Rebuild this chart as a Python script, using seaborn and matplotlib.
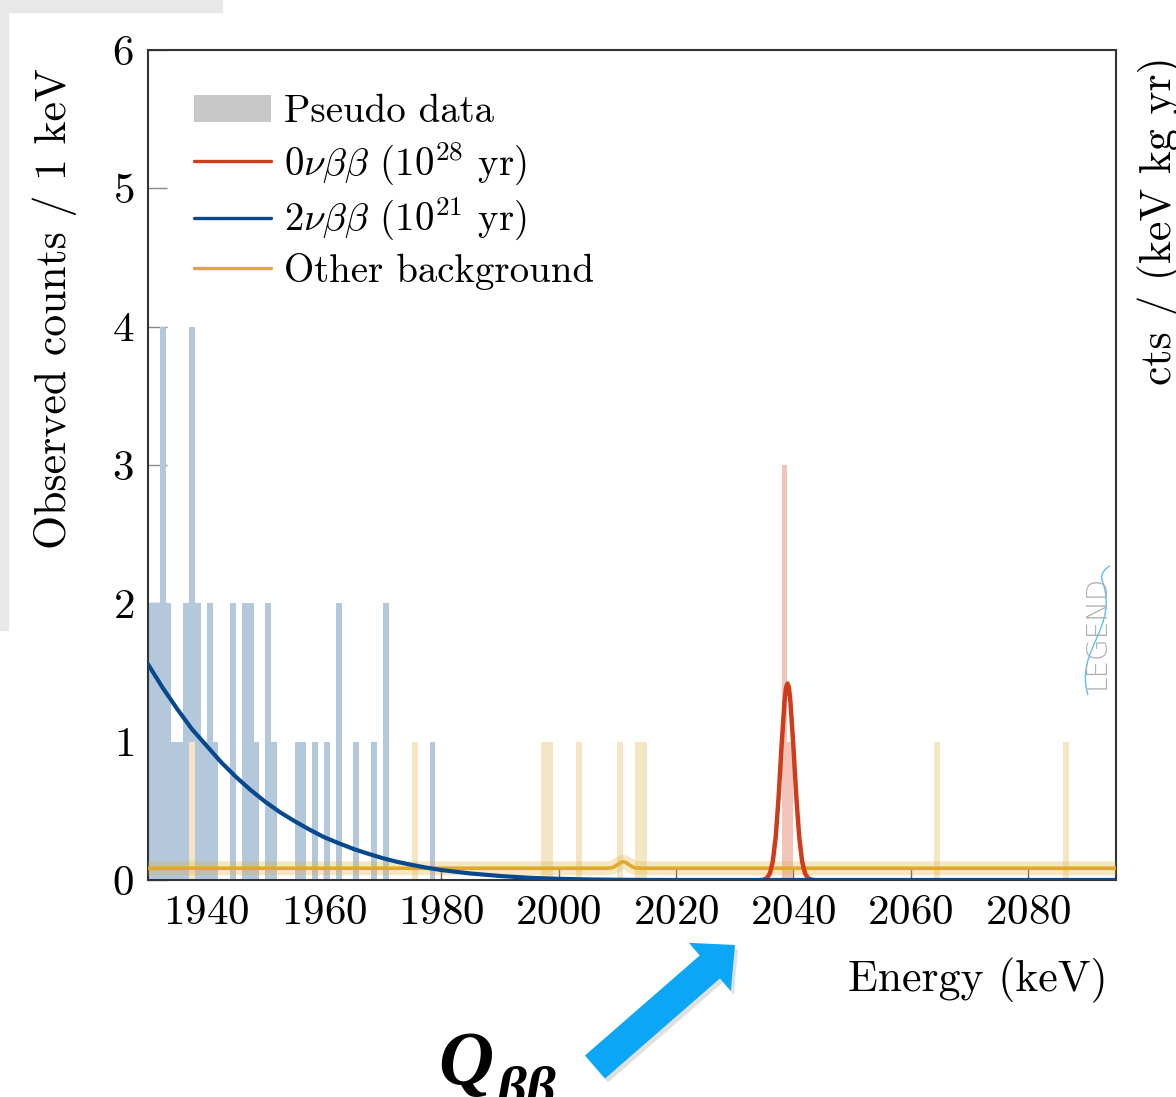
"""
    Pseudo data spectrum around Q_bb with the 0vbb, 2vbb and background models
"""
import matplotlib
matplotlib.use("Agg")
import matplotlib.pyplot as plt
from matplotlib.patches import Patch, Rectangle, FancyArrowPatch, PathPatch
from matplotlib.lines import Line2D
from matplotlib.path import Path
import seaborn as sns
import pandas as pd
import numpy as np

# Pseudo data: left edge of each 1 keV bin and its counts, split by origin
bins_2nu = [1930, 1931, 1932, 1933, 1934, 1935, 1936, 1937, 1938, 1939, 1940, 1941, 1944,
            1946, 1947, 1948, 1950, 1951, 1955, 1956, 1958, 1960, 1962, 1965, 1968, 1970, 1978]
counts_2nu = [2, 2, 4, 2, 1, 1, 2, 4, 2, 1, 2, 1, 2,
              2, 2, 1, 2, 1, 1, 1, 1, 1, 2, 1, 1, 2, 1]
bins_bkg = [1937, 1975, 1997, 1998, 2003, 2010, 2013, 2014, 2064, 2086]
counts_bkg = [1, 1, 1, 1, 1, 1, 1, 1, 1, 1]
bins_0nu = [2038, 2039]
counts_0nu = [3, 1]

# Model curves
energy_2nu = [1930, 1932.5, 1935, 1937.5, 1940, 1942.5, 1945, 1947.5, 1950, 1952.5, 1955,
              1957.5, 1960, 1962.5, 1965, 1967.5, 1970, 1972.5, 1975, 1977.5, 1980, 1985,
              1990, 1995, 2000, 2005, 2010, 2015, 2020, 2040, 2095]
rate_2nu = [1.56, 1.39, 1.235, 1.09, 0.97, 0.85, 0.745, 0.65, 0.565, 0.49, 0.425,
            0.365, 0.31, 0.266, 0.225, 0.19, 0.158, 0.131, 0.109, 0.089, 0.072, 0.047,
            0.029, 0.016, 0.0085, 0.004, 0.0016, 0.0003, 0.0, 0.0, 0.0]
energy_0nu = [2034.5, 2035, 2035.5, 2036, 2036.5, 2037, 2037.5, 2038, 2038.5, 2038.75, 2039,
              2039.25, 2039.5, 2040, 2040.5, 2041, 2041.5, 2042, 2042.5, 2043, 2043.5]
rate_0nu = [0.0, 0.003, 0.014, 0.047, 0.134, 0.313, 0.606, 0.973, 1.292, 1.39, 1.42,
            1.39, 1.292, 0.973, 0.606, 0.313, 0.134, 0.047, 0.014, 0.003, 0.0]
energy_bkg = [1930, 2008, 2009, 2009.5, 2010, 2010.5, 2011, 2011.5, 2012, 2012.5, 2013, 2014, 2095]
rate_bkg = [0.085, 0.085, 0.088, 0.097, 0.11, 0.125, 0.133, 0.125, 0.11, 0.097, 0.088, 0.085, 0.085]

xticks = [1940, 1960, 1980, 2000, 2020, 2040, 2060, 2080]
yticks = [0, 1, 2, 3, 4, 5, 6]
x_range = (1930, 2095)

legend_labels = ["Pseudo data", r"$0\nu\beta\beta$ ($10^{28}$ yr)",
                 r"$2\nu\beta\beta$ ($10^{21}$ yr)", "Other background"]

col_0nu, col_2nu, col_bkg = "#d03c1a", "#08488e", "#e0a92e"
bar_0nu, bar_2nu, bar_bkg = "#f2c3b9", "#b4c8dc", "#f4e6c3"

W, H = 1176, 1097


def px(x, y):
    # picture pixel -> figure fraction
    return x / W, 1 - y / H


def data_hist(ax, bins, counts, color):
    df = pd.DataFrame({"energy": np.array(bins, dtype=float) + 0.5, "counts": counts})
    sns.histplot(data=df, x="energy", weights="counts", binwidth=1, binrange=x_range,
                 color=color, alpha=1, linewidth=0, ax=ax)


if __name__ == "__main__":
    sns.set_theme(style="ticks")
    plt.rcParams.update({"font.family": "serif", "font.serif": ["cmr10"],
                         "mathtext.fontset": "cm", "axes.formatter.use_mathtext": True,
                         "axes.unicode_minus": False, "text.color": "black",
                         "axes.labelcolor": "black", "xtick.labelcolor": "black",
                         "ytick.labelcolor": "black"})

    fig = plt.figure(figsize=(W / 100, H / 100), dpi=100)
    fig.patch.set_facecolor("white")
    # grey frame left over from the screenshot
    fig.add_artist(Rectangle(px(0, 12), 222 / W, 12 / H, transform=fig.transFigure,
                             color="#e8e8e8", zorder=0))
    fig.add_artist(Rectangle(px(0, 630), 8 / W, 630 / H, transform=fig.transFigure,
                             color="#e8e8e8", zorder=0))

    x0, y0 = px(148, 880)
    ax = fig.add_axes([x0, y0, 968 / W, 830 / H])

    data_hist(ax, bins_2nu, counts_2nu, bar_2nu)
    data_hist(ax, bins_0nu, counts_0nu, bar_0nu)
    data_hist(ax, bins_bkg, counts_bkg, bar_bkg)

    # Model curves
    sns.lineplot(x=energy_bkg, y=rate_bkg, color=col_bkg, lw=10, alpha=0.28, ax=ax, zorder=3)
    sns.lineplot(x=energy_bkg, y=rate_bkg, color=col_bkg, lw=2.6, ax=ax, zorder=3)
    sns.lineplot(x=energy_0nu, y=rate_0nu, color=col_0nu, lw=3.2, ax=ax, zorder=4)
    sns.lineplot(x=energy_2nu, y=rate_2nu, color=col_2nu, lw=3.0, ax=ax, zorder=4)

    ax.set_xlim(*x_range)
    ax.set_ylim(0, 6)
    ax.set_xticks(xticks)
    ax.set_yticks(yticks)
    ax.set_xlabel("")
    ax.set_ylabel("")
    ax.tick_params(axis="y", direction="in", length=14, width=1, color="#888888",
                   labelsize=31, pad=10, labelcolor="black")
    ax.tick_params(axis="x", direction="in", length=8.5, width=1, color="#666666",
                   labelsize=31, pad=10.5, labelcolor="black")
    for sp in ax.spines.values():
        sp.set_visible(True)
        sp.set_color("#333333")
        sp.set_linewidth(1.5)

    handles = [Patch(facecolor="#c8c8c8", edgecolor="none"),
               Line2D([], [], color=col_0nu, lw=2.4),
               Line2D([], [], color=col_2nu, lw=2.4),
               Line2D([], [], color=col_bkg, lw=2.4)]
    ax.legend(handles, legend_labels, loc="upper left", bbox_to_anchor=(0.048, 0.947),
              frameon=False, fontsize=28, handlelength=1.98, handletextpad=0.33,
              labelspacing=0.24, borderpad=0, borderaxespad=0)

    # Axis titles
    fig.text(*px(55, 309), "Observed counts / 1 keV", rotation=90, ha="center", va="center",
             fontsize=31.5)
    fig.text(*px(1108, 980), "Energy (keV)", ha="right", va="center", fontsize=31.5)
    fig.text(*px(1160, 385), "cts / (keV kg yr)", rotation=90, ha="center", va="bottom",
             fontsize=31.5)

    # LEGEND logo
    fig.text(*px(1097, 632), "LEGEND", rotation=90, ha="center", va="center", fontsize=20,
             color="#b0b0b0", family="DejaVu Sans", fontweight="light")
    wave = Path([px(1088, 695), px(1074, 650), px(1120, 628), px(1102, 580),
                 px(1100, 575), px(1105, 568), px(1110, 566)],
                [Path.MOVETO, Path.CURVE4, Path.CURVE4, Path.CURVE4,
                 Path.CURVE4, Path.CURVE4, Path.CURVE4])
    fig.add_artist(PathPatch(wave, transform=fig.transFigure, facecolor="none",
                             edgecolor="#5cc0f0", lw=1))

    # Q_bb arrow with a soft shadow
    style = "simple,head_length=24,head_width=46,tail_width=22"
    shadow = FancyArrowPatch(px(598, 1071), px(738, 949), transform=fig.transFigure,
                             arrowstyle=style, mutation_scale=1, color="#000000", alpha=0.12,
                             lw=0, shrinkA=0, shrinkB=0)
    fig.add_artist(shadow)
    arrow = FancyArrowPatch(px(595, 1067), px(735, 945), transform=fig.transFigure,
                            arrowstyle=style, mutation_scale=1, color="#0ca6f7",
                            lw=0, shrinkA=0, shrinkB=0)
    fig.add_artist(arrow)
    fig.text(*px(438, 1084), "Q", fontsize=55, fontweight="bold", style="italic",
             family="Liberation Serif", ha="left", va="baseline")
    fig.text(*px(497, 1106), "ββ", fontsize=42, fontweight="bold", style="italic",
             family="Liberation Serif", ha="left", va="baseline")

    fig.savefig("out.png", dpi=100)
